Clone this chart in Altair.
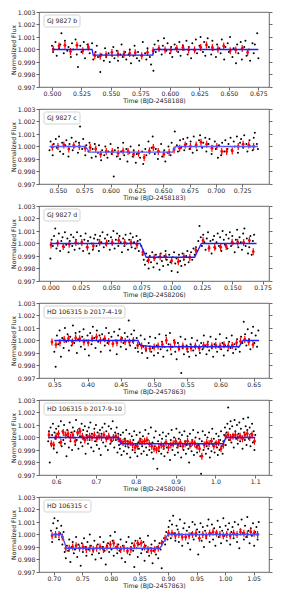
import altair as alt
import pandas as pd

NAMES = ["GJ 9827 b", "GJ 9827 c", "GJ 9827 d",
         "HD 106315 b 2017-4-19", "HD 106315 b 2017-9-10", "HD 106315 c"]
XTITLES = ["Time (BJD-2458188)", "Time (BJD-2458183)", "Time (BJD-2458206)",
           "Time (BJD-2457863)", "Time (BJD-2458006)", "Time (BJD-2457863)"]
XTICKS = [
    [0.500, 0.525, 0.550, 0.575, 0.600, 0.625, 0.650, 0.675],
    [0.550, 0.575, 0.600, 0.625, 0.650, 0.675, 0.700, 0.725],
    [0.000, 0.025, 0.050, 0.075, 0.100, 0.125, 0.150, 0.175],
    [0.35, 0.40, 0.45, 0.50, 0.55, 0.60, 0.65],
    [0.6, 0.7, 0.8, 0.9, 1.0, 1.1],
    [0.70, 0.75, 0.80, 0.85, 0.90, 0.95, 1.00, 1.05],
]
XFMT = [".3f", ".3f", ".3f", ".2f", ".1f", ".2f"]
XDOM = [[0.489, 0.684], [0.532, 0.7505], [-0.0094, 0.1803],
        [0.327, 0.673], [0.557, 1.1345], [0.674, 1.077]]
YTICKS = [0.997, 0.998, 0.999, 1.000, 1.001, 1.002, 1.003]

# ---- Panel 1: GJ 9827 b (time in 1e-3 d, flux deviation in 1e-4) ----
T1 = [500,501,503,504,506,507,508,510,511,513,514,516,517,518,520,521,522,524,525,527,528,530,531,532,534,535,537,538,539,541,542,544,545,546,548,549,551,552,553,555,556,558,559,560,562,563,565,566,567,569,570,572,573,574,576,577,579,580,581,583,584,586,587,588,590,591,593,594,595,597,598,600,601,602,604,605,607,608,609,611,612,614,615,616,618,619,621,622,623,625,626,628,629,630,632,633,635,636,637,639,640,642,643,644,646,647,649,650,651,653,654,656,657,658,660,661,663,664,665,667,668,670,671,672,674,675]
D1 = [3,-2,6,-5,1,4,13,-3,7,-1,2,-6,5,0,8,-4,-14,3,-2,6,-7,4,1,-3,5,-8,-2,3,-6,-18,-4,-9,1,-6,-3,-10,-5,2,-7,-1,-9,-4,4,-6,-2,-8,-4,0,-11,-5,3,-7,-2,-9,-5,6,-3,-8,1,-6,-12,-17,4,-2,7,0,-4,3,9,-1,5,-3,2,-6,4,1,-2,6,-5,3,0,7,-4,2,-7,5,-1,8,-3,3,10,-2,6,-5,9,2,-4,7,0,-6,4,1,-3,8,-8,2,5,-2,10,-6,1,-11,4,-3,6,-8,2,7,-5,0,-9,5,-3,4,13,-7]
R1T = [501.1,506.0,511.0,515.7,521.2,526.1,530.8,536.3,540.9,545.9,550.8,556.0,561.0,565.9,570.6,576.1,581.0,585.7,590.7,595.9,600.8,605.8,611.0,615.9,620.9,626.1,631.0,636.0,640.7,645.6,651.1,655.8,661.3,665.9]
R1D = [0.3,2.8,3.4,-1.6,3.4,-1.0,2.1,-4.9,-5.4,-4.1,-2.3,-3.6,-3.6,-3.1,-2.6,-4.9,-2.3,-1.0,0.8,-0.3,-0.3,0.8,1.6,-0.3,-0.3,1.6,3.6,1.6,0.3,2.8,-1.0,-0.3,0.8,-2.3]
M1T = [0.500, 0.534, 0.535, 0.5855, 0.5865, 0.675]
M1F = [1.0, 1.0, 0.99955, 0.99955, 1.0, 1.0]

# ---- Panel 2: GJ 9827 c ----
T2 = [542,543,545,546,548,549,551,552,554,555,557,558,560,561,563,564,566,567,569,570,571,573,574,576,577,579,580,582,583,585,586,588,589,591,592,594,595,597,598,600,601,603,604,606,607,609,610,612,613,615,616,618,619,621,622,624,625,627,628,630,631,633,634,636,637,639,640,642,643,645,646,648,649,651,652,654,655,657,658,660,661,663,664,666,667,669,670,672,673,675,676,678,679,681,682,684,685,687,688,690,691,693,694,696,697,699,700,702,703,705,706,708,709,711,712,714,715,717,718,720,721,723,724,726,727,729,730,732,733,735,736,737,739,740]
D2 = [-3,4,-7,2,6,-1,8,-4,3,-6,1,5,-8,2,7,-3,0,4,-5,3,16,-2,6,-7,1,-4,3,-9,-2,2,-8,-5,1,-11,-3,-7,0,-9,-4,2,-6,-24,-3,-8,-1,-10,-4,3,-7,-2,-12,-5,0,-8,-3,-13,-6,1,-9,-4,-14,-2,-7,4,-5,-1,8,-6,-2,-10,-4,2,-8,-3,-12,-5,0,-7,3,-2,12,1,-4,5,-1,6,-3,2,7,-2,4,-5,8,1,-3,5,9,-1,3,7,-4,2,6,-6,0,4,-2,-9,1,-7,3,-4,5,-2,2,7,-3,4,0,8,-5,3,6,-1,9,2,-4,5,0,-3,7,11,2,-2]
R2T = [544.7,550.0,555.6,560.3,565.0,570.3,575.9,580.6,585.9,590.6,595.9,601.6,607.2,611.9,616.6,621.9,626.6,631.9,636.9,640.6,645.3,650.6,655.6,660.3,665.6,670.9,675.9,681.3,685.9,691.3,696.3,700.9,705.6,710.3,715.6,721.3,725.9,731.3,735.9]
R2D = [-0.5,0.0,1.3,-1.9,0.8,0.0,-1.3,-0.8,-1.9,-6.2,-4.0,-4.0,-5.4,-3.5,-4.0,-6.2,-5.4,-8.8,-3.5,-0.8,-4.0,-6.2,-4.6,-2.7,-1.3,1.3,0.0,1.3,3.5,1.9,-1.3,0.0,-4.0,-4.0,-3.5,0.0,1.9,1.3,0.0]
M2T = [0.542, 0.576, 0.580, 0.659, 0.662, 0.740]
M2F = [1.0, 1.0, 0.99955, 0.99955, 1.0, 1.0]

# ---- Panel 3: GJ 9827 d ----
T3 = [0,1,2,3,4,5,6,7,8,9,10,11,12,13,14,15,16,17,18,19,20,21,22,23,24,25,26,27,28,29,30,31,32,33,34,35,36,37,38,39,40,41,42,43,44,45,46,47,48,49,50,51,52,53,54,55,56,57,58,59,60,61,62,63,64,65,66,67,68,69,70,71,72,73,74,75,76,77,78,79,80,81,82,83,84,85,86,87,88,89,90,91,92,93,94,95,96,97,98,99,100,101,102,103,104,105,106,107,108,109,110,111,112,113,114,115,116,117,118,119,120,121,122,123,124,125,126,127,128,129,130,131,132,133,134,135,136,137,138,139,140,141,142,143,144,145,146,147,148,149,150,151,152,153,154,155,156,157,158,159,160,161,162,163,164,165,166,167,168]
D3 = [-12,3,-2,6,12,-4,1,8,-6,2,5,-3,9,-1,4,-7,2,7,-2,5,-5,3,9,0,-4,6,1,-6,3,8,-3,2,-8,5,0,-5,4,7,-2,3,-6,6,1,9,-3,4,-1,7,2,-5,5,0,10,-4,3,8,-2,6,1,-7,4,-2,7,0,-5,3,8,-3,5,1,-4,6,2,-6,3,-2,-9,-13,-17,-8,-14,-20,-10,-15,-7,-19,-12,-9,-16,-11,-21,-8,-14,-18,-10,-6,-13,-17,-9,-15,-22,-11,-7,-16,-12,-23,-9,-14,-18,-8,-13,-17,-10,-6,-15,-11,-7,-13,-4,-9,-3,-6,2,14,5,-2,7,1,-5,4,9,-3,2,-8,3,6,-4,1,8,-2,5,-6,10,3,-1,7,-4,4,9,-2,6,0,-7,3,11,-3,5,1,-5,8,12,-2,4,-8,-3,6,-9,2,7]
R3T = [0.5,6.0,10.6,15.5,21.0,25.9,30.5,35.4,40.6,46.3,51.0,56.4,61.3,66.5,71.4,76.3,80.9,85.6,90.5,95.1,100.0,105.5,110.1,115.0,119.9,125.9,130.8,135.5,140.4,145.0,149.9,154.5,159.4,164.1,167.3]
R3D = [-1.1,0.3,-2.4,-0.5,0.8,0.8,-3.0,-1.9,0.8,0.3,0.8,2.4,0.8,0.8,-1.1,-7.0,-13.2,-11.4,-10.5,-10.5,-13.8,-14.6,-10.5,-11.1,-5.1,2.4,-3.8,-3.0,-3.0,-2.4,1.1,1.1,0.8,2.4,-6.5]
M3T = [0.000, 0.074, 0.079, 0.119, 0.1245, 0.170]
M3F = [1.0, 1.0, 0.9989, 0.9989, 1.0, 1.0]

# ---- Panel 4: HD 106315 b 2017-4-19 ----
T4 = [350,352,354,356,358,360,362,364,366,368,370,372,374,376,378,380,382,384,386,388,390,392,394,396,398,400,402,404,406,408,410,412,414,416,418,420,422,424,426,428,430,432,434,436,438,440,442,444,446,448,450,452,454,456,458,460,462,464,466,468,470,472,474,476,478,480,482,484,486,488,490,492,494,496,498,500,502,504,506,508,510,512,514,516,518,520,522,524,526,528,530,532,534,536,538,540,541,543,545,547,549,551,553,555,557,559,561,563,565,567,569,571,573,575,577,579,581,583,585,587,589,591,593,595,597,599,601,603,605,607,609,611,613,615,617,619,621,623,625,627,629,631,633,635,637,639,641,643,645,647,649,651,653,655,657]
D4 = [-9,-21,4,-3,8,-13,2,-6,10,-1,5,-8,3,-4,12,-2,6,-10,1,7,-5,3,9,-7,0,4,-12,6,-3,11,2,-6,8,-1,4,-9,5,1,-4,10,-2,6,-8,3,-3,7,0,-11,4,9,-5,2,-2,6,-7,3,16,-4,5,-1,8,-6,2,-9,-3,4,-10,-5,1,-8,-14,-2,3,-9,-6,-12,2,-4,-10,5,-7,-1,-13,-5,4,-8,-3,6,-11,-5,0,-9,-15,-2,-7,3,-26,-6,-11,1,-4,-9,-13,-3,2,-8,-5,-12,0,-6,-10,-2,-7,4,-4,-11,-1,-8,3,-6,-13,-3,1,-9,-5,5,-7,-2,-12,-4,2,-8,-1,-6,4,-10,-3,-7,1,-5,-9,3,-2,15,5,-4,9,1,-7,6,11,-2,4,-5,8]
R4T = [346.5,352.5,358.4,364.9,371.3,377.3,382.2,388.2,394.6,401.1,407.0,413.5,419.4,425.9,431.8,438.2,444.2,450.6,456.6,463.0,469.0,475.4,481.4,487.8,493.8,500.2,506.2,512.6,518.6,525.0,531.0,537.4,543.4,549.8,555.8,562.2,568.1,574.6,580.5,587.0,592.9,599.4,605.3,611.8,617.7,624.2,630.1,636.6,642.5,649.0]
R4D = [-1.2,-3.3,-1.7,0.9,1.5,-1.2,2.0,1.5,-1.2,-1.7,1.5,2.8,0.1,1.5,-0.7,-2.5,-1.7,0.9,-0.7,-1.2,0.1,-3.9,-4.4,-6.5,-6.5,-5.2,-4.4,-3.3,0.1,-5.2,-1.7,-6.0,-4.4,-6.5,-6.0,-4.4,-6.0,-3.9,-3.3,-4.4,-3.9,-4.4,-3.3,-4.4,-3.9,-1.7,-0.7,0.9,-1.2,-3.3]
M4T = [0.350, 0.476, 0.480, 0.500, 0.628, 0.634, 0.658]
M4F = [1.0, 1.0, 0.9996, 0.9995, 0.9995, 1.0, 1.0]

# ---- Panel 5: HD 106315 b 2017-9-10 ----
T5 = [580,582,584,586,588,590,592,594,596,598,600,602,604,606,608,610,612,614,616,618,620,622,624,626,628,630,632,634,636,638,640,642,644,646,648,650,652,654,656,658,660,662,664,666,668,670,672,674,676,678,680,682,684,686,688,690,692,694,696,698,700,702,704,706,708,710,712,714,716,718,720,722,724,726,728,730,732,734,736,738,740,742,744,746,748,750,752,754,756,758,760,762,764,766,768,770,772,774,776,778,780,782,784,786,788,790,792,794,796,798,800,802,804,806,808,810,812,814,816,818,820,822,824,826,828,830,832,834,836,838,840,842,844,846,848,850,852,854,856,858,860,862,864,866,868,870,872,874,876,878,880,882,884,886,888,890,892,894,896,898,900,902,904,906,908,910,912,914,916,918,920,922,924,926,928,930,932,934,936,938,940,942,944,946,948,950,952,954,956,958,960,962,964,966,968,970,972,974,976,978,980,982,984,986,988,990,992,994,996,998,1000,1002,1004,1006,1008,1010,1012,1014,1016,1018,1020,1022,1024,1026,1028,1030,1032,1034,1036,1038,1040,1042,1044,1046,1048,1050,1052,1054,1056,1058,1060,1062,1064,1066,1068,1070,1072,1074,1076,1078,1080,1082,1084,1086,1088,1090,1092,1094,1096,1098,1100]
D5 = [-3,5,-20,8,-6,2,11,-9,4,-1,
      7,-12,3,9,-4,0,13,-7,5,-2,
      10,-5,2,-15,6,1,-8,12,-3,4,
      -10,8,0,5,-6,14,-2,3,-9,7,
      1,-4,11,-7,6,-1,9,-13,2,5,
      -5,8,-2,12,-8,3,0,-11,7,-3,
      10,-6,4,1,-9,6,-14,3,8,-4,
      2,11,-7,5,-1,-10,9,0,-5,7,
      -3,13,1,-8,4,-2,8,-12,3,-6,
      -9,2,-14,-4,4,-11,-1,-7,6,-13,
      -3,-8,3,-16,-5,1,-10,-2,5,-12,
      -6,2,-15,-4,-9,4,-1,-13,-7,1,
      -11,-3,6,-8,-14,-2,3,-10,-5,8,
      -12,-4,-17,0,-7,5,-9,-25,-3,-11,
      2,-6,-13,-1,4,-9,-15,-4,1,-8,
      -12,3,-5,-18,-2,6,-10,-6,0,-14,
      -4,7,-8,-12,-1,4,-7,-16,2,-5,
      -10,5,-3,-13,-6,1,-9,-20,3,-7,
      -11,-2,6,-14,-4,0,-8,-12,4,-6,
      -1,-15,-29,-3,5,-10,-5,2,-13,-7,
      0,-9,4,-16,-3,-11,7,-6,-1,-12,
      -4,3,-8,-14,1,-10,-2,5,-7,-13,
      -3,2,8,-6,4,11,24,-2,7,13,
      -4,9,2,-8,14,5,-1,10,-5,3,
      12,-3,7,0,-9,15,4,-2,9,-6,
      6,16,-1,8,-7,3,11,-4,5,-10,
      2]
R5T = [582,588,594,600,606,612,618,624,630,636,642,648,654,660,666,672,678,684,690,696,702,708,714,720,726,732,738,744,750,756,762,768,774,780,786,792,798,804,810,816,822,828,834,840,846,852,858,864,870,876,882,888,894,900,906,912,918,924,930,936,942,948,954,960,966,972,978,984,990,996,1002,1008,1014,1020,1026,1032,1038,1044,1050,1056,1062,1068,1074,1080,1086,1092,1098]
R5D = [2,-5,-6,1,3,-4,4,2,3,0,2,-3,4,5,1,-2,0,1,0,2,-1,1,0,2,-1,1,-2,0,1,-1,-3,-4,-3,-5,-4,-6,-8,-7,-3,-4,-3,-2,-5,-7,-9,-10,-8,-6,-7,-4,-8,-6,-5,-3,-6,-4,-7,-5,-3,-6,-4,-5,-7,-9,-15,-6,-4,-5,-3,-7,-5,-4,-9,-6,1,2,0,1,2,0,1,-1,2,3,0,2,-3]
M5T = [0.580, 0.757, 0.762, 1.020, 1.026, 1.100]
M5F = [1.0, 1.0, 0.9995, 0.9995, 1.0, 1.0]

# ---- Panel 6: HD 106315 c ----
T6 = [695,697,699,701,703,705,707,709,711,713,715,717,719,721,723,725,727,729,731,733,735,737,739,741,743,745,747,749,751,753,755,757,759,761,763,765,767,769,771,773,775,777,779,781,783,785,787,789,791,793,795,797,799,801,803,805,807,809,811,813,815,817,819,821,823,825,827,829,831,833,835,837,839,841,843,845,847,849,851,853,855,857,859,861,863,865,867,869,871,873,875,877,879,881,883,885,887,889,891,893,895,897,899,901,903,905,907,909,911,913,915,917,919,921,923,925,927,929,931,933,935,937,939,941,943,945,947,949,951,953,955,957,959,961,963,965,967,969,971,973,975,977,979,981,983,985,987,989,991,993,995,997,999,1001,1003,1005,1007,1009,1011,1013,1015,1017,1019,1021,1023,1025,1027,1029,1031,1033,1035,1037,1039,1041,1043,1045,1047,1049,1051,1053,1055,1057,1059]
D6 = [3,-6,9,13,-2,5,11,-4,1,7,
      -8,2,-14,-19,-9,-13,-4,-22,-10,-6,
      -15,-12,-2,-18,-8,-11,-25,-7,-14,-3,
      -10,-17,-6,-12,0,-9,-16,-13,-5,-20,
      -11,-8,-15,-2,-19,-10,-6,-13,-24,-9,
      -7,-14,-1,-12,-5,-17,2,-10,-15,-8,
      -13,-4,-19,-9,-11,-22,-6,-14,-2,-16,
      -10,-7,-13,-26,-5,-11,-18,-8,-3,-15,
      -12,-6,-21,-9,-14,-1,-17,-11,-8,-23,
      -13,-5,-16,-10,-19,-7,-12,-27,-6,-3,
      -8,2,-4,6,11,-3,8,15,1,-5,
      7,4,-6,12,0,-9,5,9,-2,3,
      -7,6,-12,1,10,-4,8,-1,4,-16,
      2,9,-5,6,-10,3,-3,7,12,-6,
      1,8,-4,5,-9,2,11,-2,6,-7,
      3,13,-1,7,-5,4,9,-8,2,6,
      -3,10,0,-6,8,-11,4,12,1,-4,
      7,-2,14,3,-7,5,-1,9,-9,2,
      6,-4,10]
R6T = [697,703,709,715,721,727,733,739,745,751,757,763,769,775,781,787,793,799,805,811,817,823,829,835,841,847,853,859,865,871,877,883,889,895,901,907,913,919,925,931,937,943,949,955,961,967,973,979,985,991,997,1003,1009,1015,1021,1027,1033,1039,1045,1051,1057]
R6D = [-1,0,0,-2,-11,-11,-10,-9,-11,-10,-12,-11,-12,-11,-10,-12,-10,-8,-7,-10,-12,-11,-13,-12,-9,-7,-7,-10,-12,-13,-12,-11,-7,-3,1,1,-1,0,-2,-2,-1,0,1,-3,0,-1,1,2,1,0,-1,0,-1,1,0,2,1,0,2,1,0]
M6T = [0.695, 0.714, 0.722, 0.886, 0.900, 1.060]
M6F = [1.0, 1.0, 0.9989, 0.9989, 1.0, 1.0]

PANELS = [
    (T1, D1, R1T, R1D, M1T, M1F, 36, "#1f1fff"),
    (T2, D2, R2T, R2D, M2T, M2F, 36, "#5a5aff"),
    (T3, D3, R3T, R3D, M3T, M3F, 36, "#1f1fff"),
    (T4, D4, R4T, R4D, M4T, M4F, 81, "#1f1fff"),
    (T5, D5, R5T, R5D, M5T, M5F, 81, "#1f1fff"),
    (T6, D6, R6T, R6D, M6T, M6F, 47, "#4a4aff"),
]

FS = 6.2
FONT = "DejaVu Sans"
ERR = 0.00028


def panel(i, T, D, RT, RD, MT, MF, boxw, lcol):
    dots = pd.DataFrame({"t": [v / 1000 for v in T], "f": [1 + v / 1e4 for v in D]})
    red = pd.DataFrame({"t": [v / 1000 for v in RT], "f": [1 + v / 1e4 for v in RD]})
    red["lo"] = red["f"] - ERR
    red["hi"] = red["f"] + ERR
    model = pd.DataFrame({"t": MT, "f": MF})
    xs = alt.Scale(domain=XDOM[i], nice=False, zero=False)
    ys = alt.Scale(domain=[0.997, 1.003], nice=False, zero=False)
    X = alt.X("t:Q", scale=xs, axis=alt.Axis(values=XTICKS[i], format=XFMT[i],
                                             title=XTITLES[i]))
    l_dots = alt.Chart(dots).mark_circle(size=4, color="black", opacity=1, clip=True).encode(
        x=X, y=alt.Y("f:Q", scale=ys, axis=alt.Axis(values=YTICKS, format=".3f",
                                                     title="Normalized Flux")))
    l_err = alt.Chart(red).mark_rule(color="#ff0000", strokeWidth=1.2, clip=True).encode(
        x=X, y=alt.Y("lo:Q", scale=ys, axis=None), y2="hi:Q")
    l_red = alt.Chart(red).mark_circle(size=8, color="#ff0000", opacity=1, clip=True).encode(
        x=X, y=alt.Y("f:Q", scale=ys, axis=None))
    l_model = alt.Chart(model).mark_line(color=lcol, strokeWidth=1.3, clip=True).encode(
        x=X, y=alt.Y("f:Q", scale=ys, axis=alt.Axis(orient="right", labels=False, title=None,
                                                     values=YTICKS, domain=False)))
    lab = pd.DataFrame({"label": [NAMES[i]]})
    l_box = alt.Chart(lab).mark_rect(fill="white", stroke="#c8c8c8", strokeWidth=0.8,
                                     cornerRadius=2).encode(
        x=alt.value(5), x2=alt.value(5 + boxw), y=alt.value(3), y2=alt.value(15))
    l_txt = alt.Chart(lab).mark_text(align="left", baseline="middle", fontSize=FS,
                                     font=FONT, color="#222").encode(
        x=alt.value(8), y=alt.value(9.3), text="label:N")
    return alt.layer(l_dots, l_err, l_red, l_model, l_box, l_txt).resolve_axis(
        y="independent").properties(width=230, height=75)


charts = [panel(i, *p) for i, p in enumerate(PANELS)]

chart = alt.vconcat(*charts, spacing=0).properties(
    padding={"left": 1, "top": 0, "right": 2, "bottom": 0}
).configure_view(stroke="#444", strokeWidth=0.8).configure_axis(
    labelFontSize=FS, titleFontSize=FS, labelFont=FONT, titleFont=FONT,
    titleFontWeight="normal", labelColor="#222", titleColor="#222",
    tickColor="#444", tickSize=3, tickWidth=0.8, domain=False, grid=False,
    labelFlush=False, labelOverlap=False, labelPadding=0.5, titlePadding=1
).configure_axisY(titlePadding=1, labelPadding=1)

chart.save("out.html", embed_options={"renderer": "svg", "actions": False})
